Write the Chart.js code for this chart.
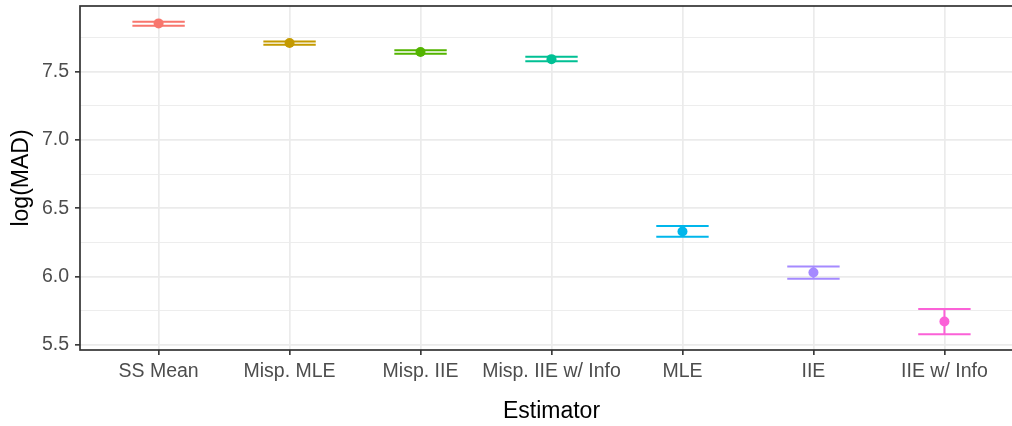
<!DOCTYPE html>
<html>
<head>
<meta charset="utf-8">
<script src="https://cdn.jsdelivr.net/npm/chart.js@4/dist/chart.umd.min.js"></script>
<style>
  html, body { margin: 0; padding: 0; background: #fff; overflow: hidden; }
  #wrap { width: 1028px; height: 426px; position: relative; }
</style>
</head>
<body>
<div id="wrap"><canvas id="chart"></canvas></div>
<script>
// Data
const categories = ['SS Mean', 'Misp. MLE', 'Misp. IIE', 'Misp. IIE w/ Info', 'MLE', 'IIE', 'IIE w/ Info'];
const estimates = [7.855, 7.711, 7.645, 7.593, 6.330, 6.029, 5.670];
const lowerCI = [7.838, 7.699, 7.633, 7.577, 6.292, 5.983, 5.576];
const upperCI = [7.868, 7.723, 7.658, 7.610, 6.370, 6.073, 5.762];
const yTicks = [5.5, 6.0, 6.5, 7.0, 7.5];

// ggplot default hue palette for 7 groups
const colors = ['#F8766D', '#C49A00', '#53B400', '#00C094', '#00B6EB', '#A58AFF', '#FB61D7'];

// ggplot-like 5% expansion of the data range
const dataMin = Math.min(...lowerCI);
const dataMax = Math.max(...upperCI);
const pad = (dataMax - dataMin) * 0.05;

// major + minor grid values
const step = yTicks[1] - yTicks[0];
const gridValues = [];
yTicks.forEach(v => { gridValues.push(v); gridValues.push(v + step / 2); });
const isMajor = v => yTicks.some(t => Math.abs(t - v) < 1e-9);

// Error bars drawn with the chart's own scales
const errorBars = {
  id: 'errorBars',
  beforeDatasetsDraw(chart) {
    const { ctx, scales: { x, y } } = chart;
    const capHalf = 0.2;
    ctx.save();
    ctx.lineWidth = 2;
    categories.forEach((c, i) => {
      const xc = x.getPixelForValue(i);
      const x0 = x.getPixelForValue(i - capHalf);
      const x1 = x.getPixelForValue(i + capHalf);
      const yl = y.getPixelForValue(lowerCI[i]);
      const yu = y.getPixelForValue(upperCI[i]);
      ctx.strokeStyle = colors[i];
      ctx.beginPath();
      ctx.moveTo(x0, yu); ctx.lineTo(x1, yu);
      ctx.moveTo(x0, yl); ctx.lineTo(x1, yl);
      ctx.moveTo(xc, yu); ctx.lineTo(xc, yl);
      ctx.stroke();
    });
    ctx.restore();
  }
};

// Panel border (theme_bw)
const panelBorder = {
  id: 'panelBorder',
  afterDatasetsDraw(chart) {
    const { ctx, chartArea: a } = chart;
    ctx.save();
    ctx.strokeStyle = '#333333';
    ctx.lineWidth = 1.7;
    ctx.strokeRect(a.left, a.top, a.right - a.left, a.bottom - a.top);
    ctx.restore();
  }
};

const tickFont = { family: "'Liberation Sans', Arial, sans-serif", size: 19.5 };
const titleFont = { family: "'Liberation Sans', Arial, sans-serif", size: 23 };

new Chart(document.getElementById('chart'), {
  type: 'scatter',
  data: {
    datasets: [{
      data: estimates.map((v, i) => ({ x: i, y: v })),
      pointBackgroundColor: colors,
      pointBorderWidth: 0,
      pointRadius: 5,
      pointHoverRadius: 5
    }]
  },
  options: {
    responsive: true,
    maintainAspectRatio: false,
    animation: false,
    layout: { padding: { top: 6, right: 1.5, bottom: 0, left: 0 } },
    plugins: { legend: { display: false }, tooltip: { enabled: false } },
    scales: {
      x: {
        type: 'linear',
        min: -0.6,
        max: categories.length - 1 + 0.6,
        afterBuildTicks: s => { s.ticks = categories.map((c, i) => ({ value: i })); },
        afterFit: s => { s.height = 76; s.paddingLeft = 0; s.paddingRight = 0; },
        ticks: {
          autoSkip: false,
          maxRotation: 0,
          padding: 4.5,
          color: '#4D4D4D',
          font: tickFont,
          callback: v => categories[v]
        },
        grid: {
          color: '#EBEBEB',
          lineWidth: 1.7,
          tickColor: '#333333',
          tickWidth: 1.6,
          tickLength: 5
        },
        border: { display: false },
        title: {
          display: true,
          text: 'Estimator',
          color: '#000000',
          font: titleFont,
          padding: { top: 0, bottom: 1 }
        }
      },
      y: {
        type: 'linear',
        min: dataMin - pad,
        max: dataMax + pad,
        afterBuildTicks: s => { s.ticks = gridValues.map(v => ({ value: v })); },
        afterFit: s => { s.width = 80; s.paddingTop = 0; s.paddingBottom = 0; },
        ticks: {
          autoSkip: false,
          padding: 6,
          color: '#4D4D4D',
          font: tickFont,
          callback: v => isMajor(v) ? v.toFixed(1) : ''
        },
        grid: {
          color: '#EBEBEB',
          lineWidth: c => isMajor(c.tick.value) ? 1.7 : 0.9,
          tickColor: c => isMajor(c.tick.value) ? '#333333' : 'rgba(0,0,0,0)',
          tickWidth: 1.6,
          tickLength: 5
        },
        border: { display: false },
        title: {
          display: true,
          text: 'log(MAD)',
          color: '#000000',
          font: titleFont,
          padding: { top: 8, bottom: 0 }
        }
      }
    }
  },
  plugins: [errorBars, panelBorder]
});
</script>
</body>
</html>
